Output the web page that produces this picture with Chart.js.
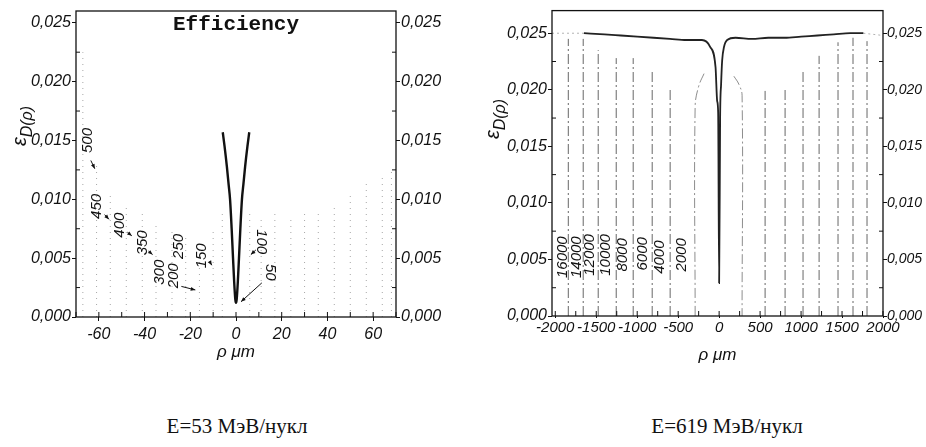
<!DOCTYPE html>
<html>
<head>
<meta charset="utf-8">
<script src="https://cdn.jsdelivr.net/npm/chart.js@4.4.0/dist/chart.umd.min.js"></script>
<style>
  body { margin: 0; background: #fff; width: 926px; height: 447px; position: relative; overflow: hidden; }
  canvas { position: absolute; top: 0; }
  #c53 { left: 0; }
  #c619 { left: 463px; }
  .cap { position: absolute; top: 414px; width: 300px; text-align: center;
         font-family: "Liberation Serif", "Times New Roman", serif; font-size: 21px; color: #111; }
</style>
</head>
<body>
<canvas id="c53" width="463" height="370"></canvas>
<canvas id="c619" width="463" height="370"></canvas>
<div class="cap" style="left:87px">E=53 МэВ/нукл</div>
<div class="cap" style="left:577px">E=619 МэВ/нукл</div>
<script>
// ---------- data: E=53 MeV/nucl ----------
const rho53 = [-5.8, -5.0, -4.0, -3.2, -2.6, -1.9, -1.3, -0.8, -0.3, 0, 0.3, 0.8, 1.3, 1.9, 2.6, 3.2, 4.0, 5.0, 5.8];
const eps53 = [0.0157, 0.0145, 0.0128, 0.0112, 0.0100, 0.0075, 0.0050, 0.0030, 0.0015, 0.0012, 0.0015, 0.0030, 0.0050, 0.0075, 0.0100, 0.0112, 0.0128, 0.0145, 0.0157];
// faint dotted curves (almost vertical): position and top value
const rhoFaint53 = [-67, -61, -55, -48, -41, -35, -28, -22, -16, -10, -6, 6, 11, 17, 24, 30, 36, 43, 50, 57, 64, 68];
const topFaint53 = [0.0225, 0.013, 0.0105, 0.0095, 0.0088, 0.008, 0.0075, 0.007, 0.0065, 0.0075, 0.009,
                    0.009, 0.0085, 0.009, 0.0085, 0.0088, 0.009, 0.0095, 0.0105, 0.0115, 0.012, 0.0125];
const curveNames53 = ['500', '450', '400', '350', '300', '200', '250', '150', '100', '50'];
const nameRho53 = [-64.8, -60.9, -50.9, -40.9, -33.5, -27, -24.8, -14.8, 10.9, 14.8];
const nameEps53 = [0.0150, 0.0094, 0.0078, 0.0063, 0.0038, 0.0035, 0.0060, 0.0052, 0.0064, 0.0038];
const xTicks53 = [-60, -40, -20, 0, 20, 40, 60];
const xMinor53 = [-70, -50, -30, -10, 10, 30, 50, 70];

// ---------- data: E=619 MeV/nucl ----------
const rho619 = [-1650, -1400, -1200, -1000, -800, -600, -400, -210, -110, -44, -24, -12, 0, 12, 24, 37, 60, 98, 200, 400, 600, 800, 1000, 1200, 1400, 1600, 1760];
const eps619 = [0.0250, 0.0249, 0.0248, 0.0247, 0.0246, 0.0245, 0.0244, 0.0244, 0.0238, 0.0220, 0.0190, 0.0180, 0.0029, 0.0175, 0.0205, 0.0226, 0.0238, 0.0244, 0.0246, 0.0245, 0.0246, 0.0246, 0.0247, 0.0248, 0.0249, 0.0250, 0.0250];
const tailRho619 = [-2040, -1650];
const tailEps619 = [0.0250, 0.0250];
const tailRhoR619 = [1760, 2000];
const tailEpsR619 = [0.0250, 0.0248];
const rhoLines619 = [-1841, -1659, -1476, -1256, -1049, -817, -598, 561, 805, 1024, 1220, 1451, 1634, 1805];
const topLines619 = [0.0245, 0.0245, 0.0235, 0.0228, 0.0228, 0.0218, 0.0201, 0.0199, 0.0202, 0.0218, 0.0230, 0.0242, 0.0246, 0.0243];
const bendRhoL619 = [-293, -293, -250, -180];
const bendEpsL619 = [0, 0.0185, 0.0203, 0.0215];
const bendRhoR619 = [180, 240, 280, 280];
const bendEpsR619 = [0.0212, 0.0205, 0.0195, 0];
const curveNames619 = ['16000', '14000', '12000', '10000', '8000', '6000', '4000', '2000'];
const nameRho619 = [-1902, -1732, -1573, -1378, -1171, -927, -720, -451];
const nameEps619 = [0.0052, 0.0052, 0.0054, 0.0054, 0.0054, 0.0055, 0.0052, 0.0054];
const xTicks619 = [-2000, -1500, -1000, -500, 0, 500, 1000, 1500, 2000];
const xMinor619 = [-1750, -1250, -750, -250, 250, 750, 1250, 1750];

const yTicks = [0, 0.005, 0.010, 0.015, 0.020, 0.025];
const yMinor = [0.0025, 0.0075, 0.0125, 0.0175, 0.0225];

const narrow = '"Liberation Sans Narrow", "Liberation Sans", Arial, sans-serif';
const ink = '#111';

function pts(xs, ys) { return xs.map((x, i) => ({ x: x, y: ys[i] })); }
function fmtEps(v) { return Number(v).toFixed(3).replace('.', ','); }

function drawYTitle(ctx, cx, cy) {
  ctx.save();
  ctx.translate(cx, cy);
  ctx.rotate(-Math.PI / 2);
  const f1 = 'italic 20px ' + narrow, f2 = 'italic 16px ' + narrow;
  ctx.font = f1; const w1 = ctx.measureText('ε').width;
  ctx.font = f2; const w2 = ctx.measureText('D(ρ)').width;
  let x0 = -(w1 + w2) / 2;
  ctx.textAlign = 'left'; ctx.textBaseline = 'alphabetic'; ctx.fillStyle = ink;
  ctx.font = f1; ctx.fillText('ε', x0, 2);
  ctx.font = f2; ctx.fillText('D(ρ)', x0 + w1, 8);
  ctx.restore();
}

const decor = {
  id: 'decor',
  afterDraw(chart, args, o) {
    const ctx = chart.ctx, a = chart.chartArea, x = chart.scales.x, y = chart.scales.y;
    ctx.save();
    ctx.strokeStyle = ink; ctx.lineWidth = 1.3;
    ctx.strokeRect(a.left, a.top, a.right - a.left, a.bottom - a.top);
    // inward minor ticks
    ctx.lineWidth = 1;
    ctx.beginPath();
    o.minorX.concat(o.majorX).forEach(v => {
      const px = x.getPixelForValue(v);
      ctx.moveTo(px, a.bottom); ctx.lineTo(px, a.bottom - 5);
    });
    yMinor.forEach(v => {
      const py = y.getPixelForValue(v);
      ctx.moveTo(a.left, py); ctx.lineTo(a.left + 4, py);
      ctx.moveTo(a.right, py); ctx.lineTo(a.right - 4, py);
    });
    ctx.stroke();
    // curve names
    ctx.fillStyle = ink;
    ctx.font = 'italic 15px ' + narrow;
    ctx.textAlign = 'center'; ctx.textBaseline = 'middle';
    o.names.forEach((t, i) => {
      ctx.save();
      ctx.translate(x.getPixelForValue(o.nameRho[i]), y.getPixelForValue(o.nameEps[i]));
      ctx.rotate(o.nameRot[i] * Math.PI / 180);
      ctx.fillText(t, 0, 0);
      ctx.restore();
    });
    // arrows
    (o.arrows || []).forEach(ar => {
      const x1 = x.getPixelForValue(ar[0]), y1 = y.getPixelForValue(ar[1]);
      const x2 = x.getPixelForValue(ar[2]), y2 = y.getPixelForValue(ar[3]);
      const ang = Math.atan2(y2 - y1, x2 - x1);
      ctx.beginPath(); ctx.moveTo(x1, y1); ctx.lineTo(x2, y2); ctx.stroke();
      ctx.beginPath();
      ctx.moveTo(x2, y2);
      ctx.lineTo(x2 - 5 * Math.cos(ang - 0.4), y2 - 5 * Math.sin(ang - 0.4));
      ctx.lineTo(x2 - 5 * Math.cos(ang + 0.4), y2 - 5 * Math.sin(ang + 0.4));
      ctx.closePath(); ctx.fill();
    });
    if (o.heading) {
      ctx.font = 'bold 21px "Liberation Mono", "Courier New", monospace';
      ctx.textAlign = 'center'; ctx.textBaseline = 'middle';
      ctx.fillText(o.heading, x.getPixelForValue(0), a.top + 14);
    }
    drawYTitle(ctx, o.yTitleX, o.yTitleY);
    ctx.restore();
  }
};

function build(id, o) {
  const yAxis = (pos, w, size, pad) => ({
    position: pos, min: 0, max: o.yMax,
    afterBuildTicks: s => { s.ticks = yTicks.map(v => ({ value: v })); },
    afterFit: s => { s.width = w; },
    grid: { drawOnChartArea: false, tickLength: 4, color: ink },
    border: { display: false },
    ticks: { padding: pad, color: ink, font: { family: narrow, style: 'italic', size: size }, callback: v => fmtEps(v) }
  });
  return new Chart(document.getElementById(id), {
    type: 'line',
    data: { datasets: o.datasets },
    options: {
      responsive: false,
      animation: false,
      layout: { padding: { top: o.padTop, left: 0, right: 0, bottom: 0 } },
      elements: { point: { radius: 0 } },
      plugins: { legend: { display: false }, tooltip: { enabled: false }, decor: o.decor },
      scales: {
        x: {
          type: 'linear', min: o.xMin, max: o.xMax,
          afterBuildTicks: s => { s.ticks = o.xTicks.map(v => ({ value: v })); },
          afterFit: s => { s.height = o.xHeight; },
          grid: { drawOnChartArea: false, tickLength: o.xTickLen, color: ink },
          border: { display: false },
          ticks: { autoSkip: false, maxRotation: 0, padding: o.xPad, color: ink,
                   font: { family: narrow, style: 'italic', size: o.xFont }, callback: v => String(v) },
          title: { display: true, text: 'ρ μm', color: ink,
                   font: { family: narrow, style: 'italic', size: 17 }, padding: { top: 0, bottom: o.titlePad } }
        },
        y: yAxis('left', o.yLeftW, 16, 1),
        y2: yAxis('right', o.yRightW, o.y2Font, o.y2Pad)
      }
    },
    plugins: [decor]
  });
}

// ---------- left panel ----------
const ds53 = rhoFaint53.map((r, i) => ({
  data: pts([r, r], [0, topFaint53[i]]),
  borderColor: 'rgba(0,0,0,0.35)', borderWidth: 1, borderDash: [1, 5]
}));
ds53.push({ data: pts(rho53, eps53), borderColor: ink, borderWidth: 2.4, cubicInterpolationMode: 'monotone' });

build('c53', {
  datasets: ds53, padTop: 11, xMin: -70, xMax: 70, yMax: 0.026,
  xTicks: xTicks53, xHeight: 53, xTickLen: 4, xPad: 4, xFont: 16, titlePad: 8,
  yLeftW: 76, yRightW: 67, y2Font: 16, y2Pad: 1,
  decor: {
    minorX: xMinor53, majorX: xTicks53,
    names: curveNames53, nameRho: nameRho53, nameEps: nameEps53,
    nameRot: [-90, -90, -90, -90, -90, -90, -90, -90, 90, 90],
    arrows: [[-63.5, 0.0133, -61.8, 0.0126], [-57.5, 0.0087, -55.6, 0.0083], [-47.5, 0.0072, -45.6, 0.0069],
             [-38.3, 0.0056, -36.5, 0.0053], [-23.9, 0.0026, -17.8, 0.0023], [-11.5, 0.0047, -10.6, 0.0044],
             [8.7, 0.0057, 6.5, 0.0053], [11.3, 0.0029, 2.2, 0.0013]],
    heading: 'Efficiency', yTitleX: 24, yTitleY: 126
  }
});

// ---------- right panel ----------
const ds619 = rhoLines619.map((r, i) => ({
  data: pts([r, r], [0, topLines619[i]]),
  borderColor: 'rgba(0,0,0,0.6)', borderWidth: 1, borderDash: [10, 3, 2, 3]
}));
ds619.push({ data: pts(bendRhoL619, bendEpsL619), borderColor: 'rgba(0,0,0,0.45)', borderWidth: 1, borderDash: [10, 3, 2, 3], tension: 0.4 });
ds619.push({ data: pts(bendRhoR619, bendEpsR619), borderColor: 'rgba(0,0,0,0.45)', borderWidth: 1, borderDash: [10, 3, 2, 3], tension: 0.4 });
ds619.push({ data: pts(tailRho619, tailEps619), borderColor: 'rgba(0,0,0,0.3)', borderWidth: 1, borderDash: [2, 3] });
ds619.push({ data: pts(tailRhoR619, tailEpsR619), borderColor: 'rgba(0,0,0,0.3)', borderWidth: 1, borderDash: [2, 3] });
ds619.push({ data: pts(rho619, eps619), borderColor: '#222', borderWidth: 1.8, cubicInterpolationMode: 'monotone' });

build('c619', {
  datasets: ds619, padTop: 10, xMin: -2040, xMax: 2000, yMax: 0.027,
  xTicks: xTicks619, xHeight: 54, xTickLen: 2, xPad: 1, xFont: 15, titlePad: 5,
  yLeftW: 89, yRightW: 43, y2Font: 14, y2Pad: 0,
  decor: {
    minorX: xMinor619, majorX: xTicks619,
    names: curveNames619, nameRho: nameRho619, nameEps: nameEps619,
    nameRot: [-90, -90, -90, -90, -90, -90, -90, -90],
    arrows: [], heading: null, yTitleX: 34, yTitleY: 119
  }
});
</script>
</body>
</html>
